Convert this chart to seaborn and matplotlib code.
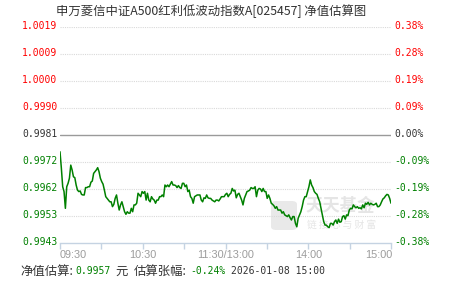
import numpy as np
import pandas as pd
import matplotlib
matplotlib.use("Agg")
import matplotlib.pyplot as plt
import seaborn as sns
from matplotlib.patches import FancyBboxPatch

# ---------------- data ----------------
title = "申万菱信中证A500红利低波动指数A[025457] 净值估算图"
base_nav = 0.9981
nav_labels = ["1.0019", "1.0009", "1.0000", "0.9990", "0.9981",
              "0.9972", "0.9962", "0.9953", "0.9943"]
pct_labels = ["0.38%", "0.28%", "0.19%", "0.09%", "0.00%",
              "-0.09%", "-0.19%", "-0.28%", "-0.38%"]
time_labels = ["09:30", "10:30", "11:30/13:00", "14:00", "15:00"]
est_nav = "0.9957"
est_change = "-0.24%"
timestamp = "2026-01-08 15:00"

# intraday estimated change (%), 09:30 -> 15:00 trading minutes
pct = [
    -0.059, -0.116, -0.182, -0.199, -0.258, -0.182, -0.170, -0.152, -0.106, -0.123,
    -0.147, -0.150, -0.176, -0.194, -0.199, -0.197, -0.209, -0.211, -0.211, -0.185,
    -0.185, -0.182, -0.182, -0.166, -0.162, -0.135, -0.129, -0.123, -0.115, -0.129,
    -0.152, -0.164, -0.173, -0.194, -0.217, -0.223, -0.229, -0.235, -0.235, -0.252,
    -0.244, -0.223, -0.211, -0.240, -0.264, -0.246, -0.235, -0.252, -0.270, -0.279,
    -0.270,
    -0.275, -0.275, -0.258, -0.270, -0.246, -0.246, -0.240, -0.205, -0.211, -0.217,
    -0.199, -0.205, -0.199, -0.229, -0.205, -0.229, -0.235, -0.217, -0.225, -0.229,
    -0.240, -0.229, -0.229, -0.217, -0.217, -0.211, -0.217, -0.176, -0.182, -0.176,
    -0.182, -0.173, -0.164, -0.176, -0.176, -0.178, -0.185, -0.178, -0.185, -0.188,
    -0.170, -0.170, -0.182, -0.176, -0.199, -0.194, -0.217, -0.223, -0.240, -0.217,
    -0.214, -0.211, -0.211, -0.211, -0.229, -0.235, -0.221, -0.223, -0.211, -0.221,
    -0.223, -0.223, -0.229, -0.232, -0.235, -0.229, -0.229, -0.232, -0.225, -0.217,
    -0.217, -0.217, -0.209, -0.205, -0.217, -0.209, -0.205, -0.188, -0.197, -0.194,
    -0.221, -0.209, -0.205, -0.217, -0.229, -0.246, -0.223, -0.211, -0.199, -0.197,
    -0.194, -0.185, -0.188, -0.188, -0.182, -0.217, -0.194, -0.188, -0.190, -0.199,
    -0.188, -0.199, -0.199, -0.223, -0.211, -0.223, -0.240, -0.244, -0.249, -0.258,
    -0.252, -0.264, -0.264, -0.264, -0.275, -0.270, -0.281, -0.284, -0.287, -0.281,
    -0.291, -0.299, -0.287, -0.287, -0.311, -0.323, -0.293, -0.281, -0.270, -0.252,
    -0.229, -0.217, -0.217, -0.199, -0.182, -0.158, -0.176, -0.185, -0.199, -0.205,
    -0.209, -0.223, -0.235, -0.258, -0.281, -0.305, -0.317, -0.317, -0.323, -0.326,
    -0.311, -0.311, -0.317, -0.305, -0.299, -0.311, -0.296, -0.307, -0.305, -0.287,
    -0.284, -0.296, -0.281, -0.284, -0.264, -0.258, -0.260, -0.246, -0.252, -0.256,
    -0.252, -0.258, -0.256, -0.260, -0.246, -0.256, -0.240, -0.244, -0.237, -0.246,
    -0.240, -0.244, -0.246, -0.244, -0.240, -0.252, -0.252, -0.246, -0.235, -0.225,
    -0.221, -0.214, -0.209, -0.211, -0.223, -0.240,
]

# ---------------- style ----------------
sns.set_theme(style="white")
plt.rcParams['font.family'] = ['Noto Sans CJK SC', 'DejaVu Sans']

W, H = 451, 281
RED, GREEN, DARK = "#ff0000", "#008000", "#333333"
MONO = ['DejaVu Sans Mono']

def fx(px):
    return px / W

def fy(py):
    return 1 - py / H

fig = plt.figure(figsize=(W / 100, H / 100), dpi=100)
fig.patch.set_facecolor("white")
ax = fig.add_axes([fx(60), fy(243), 331 / W, 216 / H])
ax.set_facecolor("none")

df = pd.DataFrame({"minute": np.linspace(0, 240, len(pct)), "pct": pct})
sns.lineplot(data=df, x="minute", y="pct", ax=ax, color=GREEN,
             linewidth=1.1, zorder=4)

ax.set_xlim(0, 240)
ax.set_ylim(-0.38, 0.38)
levels = np.linspace(0.38, -0.38, 9)
for lv in levels[:-1]:
    if abs(lv) < 1e-9:
        ax.axhline(0, color="#9a9a9a", lw=1.0, zorder=2)
    else:
        ax.axhline(lv, color="#d9d9d9", lw=0.8, ls=(0, (1, 1)), zorder=1)

for s in ["top", "left", "right"]:
    ax.spines[s].set_visible(False)
ax.spines["bottom"].set_color("#c5d3e2")
ax.spines["bottom"].set_linewidth(1.0)
ax.set_xticks(np.arange(0, 241, 30))
ax.set_xticklabels([])
ax.set_yticks([])
ax.tick_params(axis="x", length=4, width=1, color="#c5d3e2", direction="out",
               bottom=True)
ax.set_xlabel("")
ax.set_ylabel("")

# watermark
logo = FancyBboxPatch((fx(271), fy(230)), 26 / W, 29 / H,
                      boxstyle="round,pad=0,rounding_size=0.012",
                      transform=fig.transFigure, facecolor="#e9e9e9",
                      edgecolor="none", zorder=0)
ax.add_artist(logo)
ax.text(fx(340), fy(206), "天天基金", transform=fig.transFigure, ha="center",
        va="center", fontsize=12.5, fontweight="bold", color="#e5e5e5", zorder=0)
ax.text(fx(342), fy(225), "链 接 心 与 财 富", transform=fig.transFigure,
        ha="center", va="center", fontsize=7, color="#e5e5e5", zorder=0)

# y labels
for i, (nl, pl) in enumerate(zip(nav_labels, pct_labels)):
    ypx = 27 + i * 27 - 1
    col = RED if i < 4 else (DARK if i == 4 else GREEN)
    fig.text(fx(57.5), fy(ypx), nl, ha="right", va="center", fontsize=7,
             color=col, family=MONO)
    fig.text(fx(394.5), fy(ypx), pl, ha="left", va="center", fontsize=7,
             color=col, family=MONO)

# x labels
xpos = [(60, "left"), (143, "center"), (226, "center"), (309, "center"),
        (392, "right")]
for (px, ha), lab in zip(xpos, time_labels):
    fig.text(fx(px), fy(255), lab, ha=ha, va="center", fontsize=7.8,
             color="#9c9c9c", family=['Liberation Sans'])

# title
fig.text(fx(211.5), fy(11), title, ha="center", va="center", fontsize=8.9,
         color=DARK)

# footer
yb = fy(271.5)
fig.text(fx(20), yb, "净值估算:", ha="left", va="center", fontsize=8.9, color=DARK)
fig.text(fx(75), yb, est_nav, ha="left", va="center", fontsize=7, color=GREEN,
         family=MONO)
fig.text(fx(115), yb, "元", ha="left", va="center", fontsize=8.9, color=DARK)
fig.text(fx(134), yb, "估算张幅:", ha="left", va="center", fontsize=8.9, color=DARK)
fig.text(fx(190), yb, est_change, ha="left", va="center", fontsize=7,
         color=GREEN, family=MONO)
fig.text(fx(231), yb, timestamp, ha="left", va="center", fontsize=7,
         color=DARK, family=MONO)

fig.savefig("out.png", dpi=100)
